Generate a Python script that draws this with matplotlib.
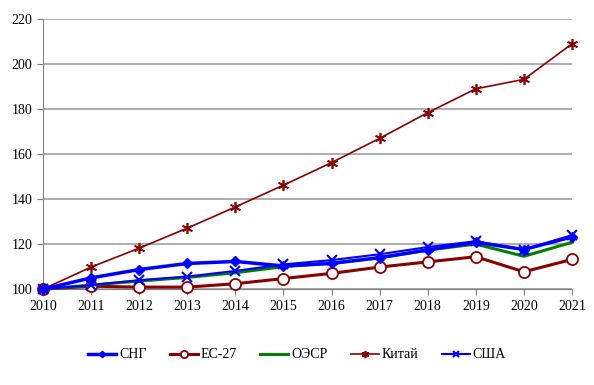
import matplotlib.pyplot as plt

plt.rcParams['font.family'] = ['Liberation Serif', 'DejaVu Serif']

years = list(range(2010, 2022))
cis = [100, 105.0, 108.7, 111.4, 112.3, 110.3, 111.4, 114.0, 117.4, 120.8, 117.6, 123.2]
eu27 = [100, 101.3, 100.9, 100.9, 102.4, 104.7, 107.0, 109.8, 112.1, 114.4, 107.7, 113.2]
oecd = [100, 101.8, 103.6, 105.2, 107.3, 110.0, 111.6, 113.9, 117.4, 120.0, 114.6, 120.8]
china = [100, 109.8, 118.2, 127.1, 136.5, 146.2, 156.2, 167.0, 178.4, 189.0, 193.2, 209.0]
usa = [100, 101.8, 104.0, 105.6, 108.1, 111.0, 112.9, 115.5, 118.7, 121.3, 117.6, 124.0]

blue = '#0000ff'
red = '#8b0000'
green = '#008000'

fig = plt.figure(figsize=(5.94, 3.85), dpi=100)
ax = fig.add_axes([0.0724, 0.249, 0.8906, 0.7016])

ax.plot(years, cis, color=blue, lw=2.5, marker='D', ms=5, label='СНГ', zorder=4)
ax.plot(years, eu27, color=red, lw=2.2, marker='o', ms=8, mfc='white', mec=red, mew=1.3,
        label='ЕС-27', zorder=3)
ax.plot(years, oecd, color=green, lw=2.2, label='ОЭСР', zorder=3)
ax.plot(years, china, color=red, lw=1.2, marker=(6, 2, 0), ms=8, mew=1.2, label='Китай', zorder=3)
ax.plot(years, usa, color=blue, lw=1.5, marker='x', ms=7, mew=1.5, label='США', zorder=5)

ax.set_xlim(2010, 2021)
ax.set_ylim(100, 220)
ax.set_xticks(years)
ax.set_yticks(range(100, 221, 20))
ax.yaxis.grid(True, color='#a0a0a0', lw=1.2)
ax.set_axisbelow(True)
for s in ['top', 'right']:
    ax.spines[s].set_visible(False)
for s in ['left', 'bottom']:
    ax.spines[s].set_color('#808080')
ax.tick_params(axis='both', colors='#808080', labelcolor='black', labelsize=10, length=4)
ax.tick_params(axis='x', pad=4)
for l in ax.lines:
    l.set_clip_on(False)

fig.legend(loc='center', bbox_to_anchor=(0.5, 0.078), ncol=5, frameon=False,
           fontsize=10, handlelength=2.0, columnspacing=1.7, handletextpad=0.2,
           markerscale=0.65)

fig.savefig('out.png', dpi=100)
